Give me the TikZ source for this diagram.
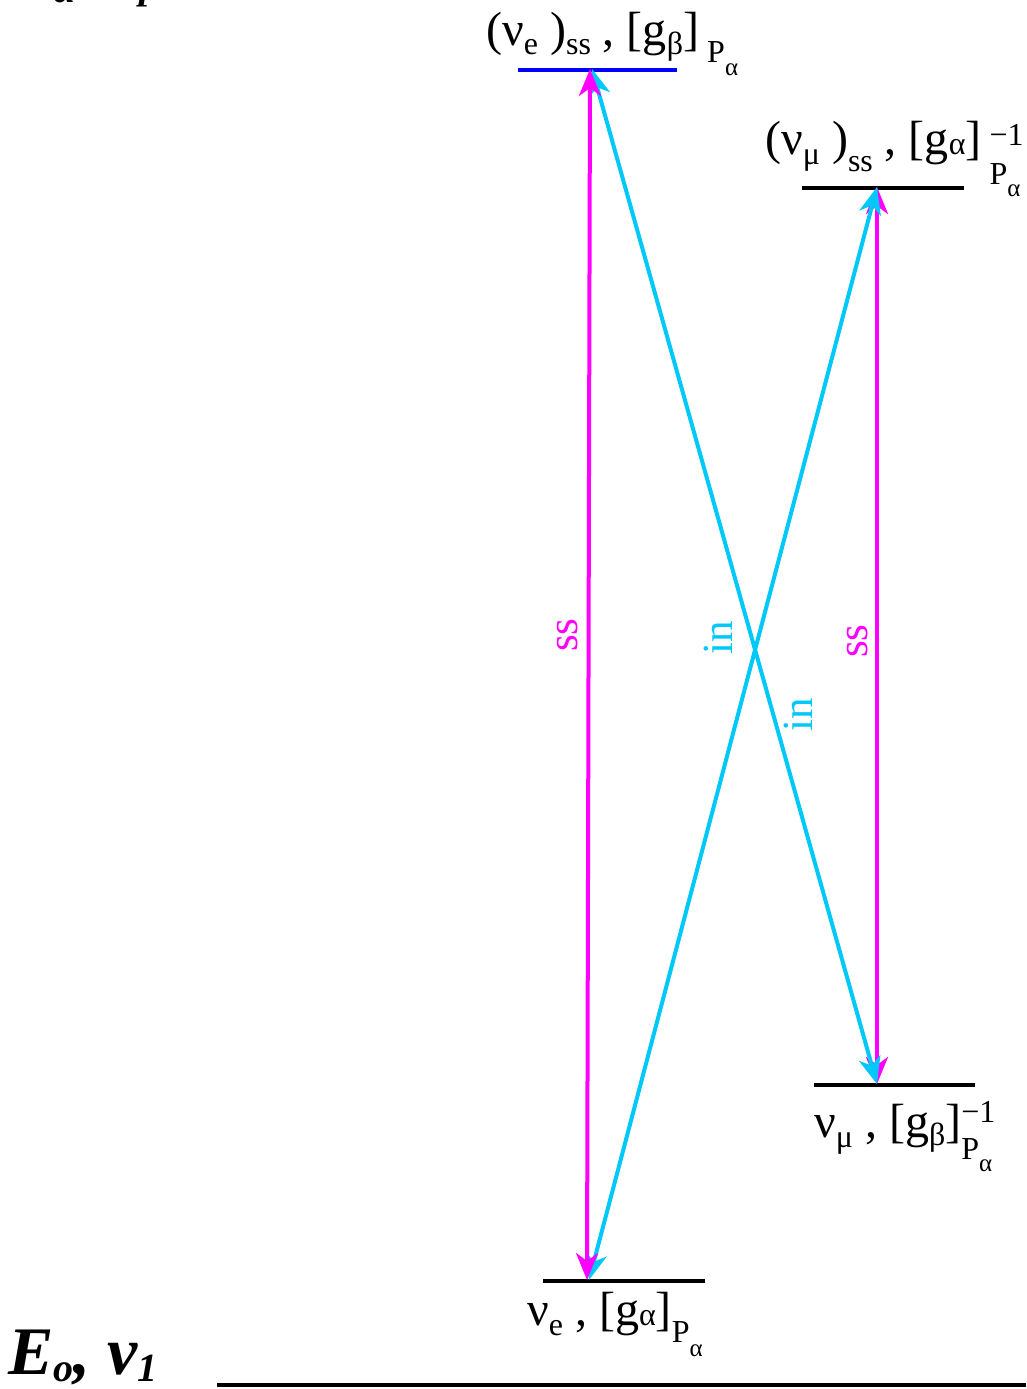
\documentclass[tikz,border=0pt]{standalone}
\usepackage{fontspec}
\setmainfont{Liberation Serif}
\usetikzlibrary{arrows.meta}
\definecolor{mag}{RGB}{255,0,255}
\definecolor{cy}{RGB}{0,200,248}
\definecolor{lvblue}{RGB}{0,0,255}
\newcommand\lbig{\fontsize{48}{48}\selectfont}
\newcommand\lsm{\fontsize{32}{32}\selectfont}
\newcommand\ltn{\fontsize{25}{25}\selectfont}
\newcommand\dn[2]{\raisebox{-#1pt}{\lsm #2}}
\newcommand\pal[2]{\raisebox{-#1pt}{\lsm P\raisebox{-#2pt}{\ltn α}}}
\newcommand\invpal[3]{\rlap{\raisebox{#1pt}{\lsm −1}}\raisebox{-#2pt}{\lsm P\raisebox{-#3pt}{\ltn α}}}
\tikzset{
  lvl/.style={line width=4.5pt},
  tipS/.tip={Stealth[length=27pt,width=22pt,inset=8pt]},
  ssarr/.style={mag,line width=4pt,tipS-tipS},
  inarr/.style={cy,line width=4pt,tipS-tipS},
  lbl/.style={inner sep=0pt,anchor=base west,font=\lbig},
  vlab/.style={inner sep=0pt,rotate=90,font=\fontsize{43}{43}\selectfont},
  elab/.style={inner sep=0pt,anchor=base west,font=\fontsize{68}{68}\selectfont\bfseries\itshape}
}
\begin{document}
\begin{tikzpicture}[x=1pt,y=-1pt]
\clip (0,0) rectangle (1026,1389);
\useasboundingbox (0,0) rectangle (1026,1389);
% level end points
\coordinate (t1) at (518,70);   \coordinate (t2) at (677,70);
\coordinate (r1) at (802,188);  \coordinate (r2) at (964,188);
\coordinate (s1) at (814,1085); \coordinate (s2) at (975,1085);
\coordinate (b1) at (543,1281); \coordinate (b2) at (705,1281);
\coordinate (g1) at (217,1385); \coordinate (g2) at (1026,1385);
% arrow ends
\coordinate (T) at (590,69);
\coordinate (R) at (877,187);
\coordinate (S) at (877,1084);
\coordinate (B) at (587,1280);
% levels
\draw[lvl,lvblue,line width=3.5pt] (t1) -- (t2);
\draw[lvl] (r1) -- (r2);
\draw[lvl] (s1) -- (s2);
\draw[lvl] (b1) -- (b2);
\draw[lvl] (g1) -- (g2);
% arrows
\draw[ssarr] (R) -- (S);
\draw[inarr] ([xshift=2pt]T) -- (S);
\draw[inarr] ([xshift=2pt]B) -- (R);
\draw[ssarr] (T) -- (B);
% arrow labels
\node[vlab,text=mag] (l1) at (568,635) {ss};
\node[vlab,text=cy] (l2) at (718,638) {in};
\node[vlab,text=cy] (l3) at (798,715) {in};
\node[vlab,text=mag] (l4) at (858,641) {ss};
% level labels
\node[lbl] (n1) at (486,46) {(ν\dn{9}{e} )\dn{9}{ss} , [g\dn{9}{β}]\,\pal{17}{13}};
\node[lbl] (n2) at (765,154) {(ν\dn{10}{μ} )\dn{17}{ss} , [g\dn{0}{α}]\,\invpal{9}{30}{12}};
\node[lbl] (n3) at (814,1137) {ν\dn{10}{μ} , [g\dn{8}{β}]\invpal{15}{22}{12}};
\node[lbl] (n4) at (527,1325) {ν\dn{10}{e} , [g\dn{0}{α}]\pal{17}{14}};
% energy labels
\node[elab] (e1) at (8,1374) {E\raisebox{-7pt}{\fontsize{40}{40}\selectfont o}, ν\raisebox{-7pt}{\fontsize{40}{40}\selectfont 1}};
\node[elab] (e0) at (8,-18) {E\raisebox{-21pt}{\fontsize{40}{40}\selectfont α}, ν\raisebox{-17pt}{\fontsize{40}{40}\selectfont p}};
\end{tikzpicture}
\end{document}
